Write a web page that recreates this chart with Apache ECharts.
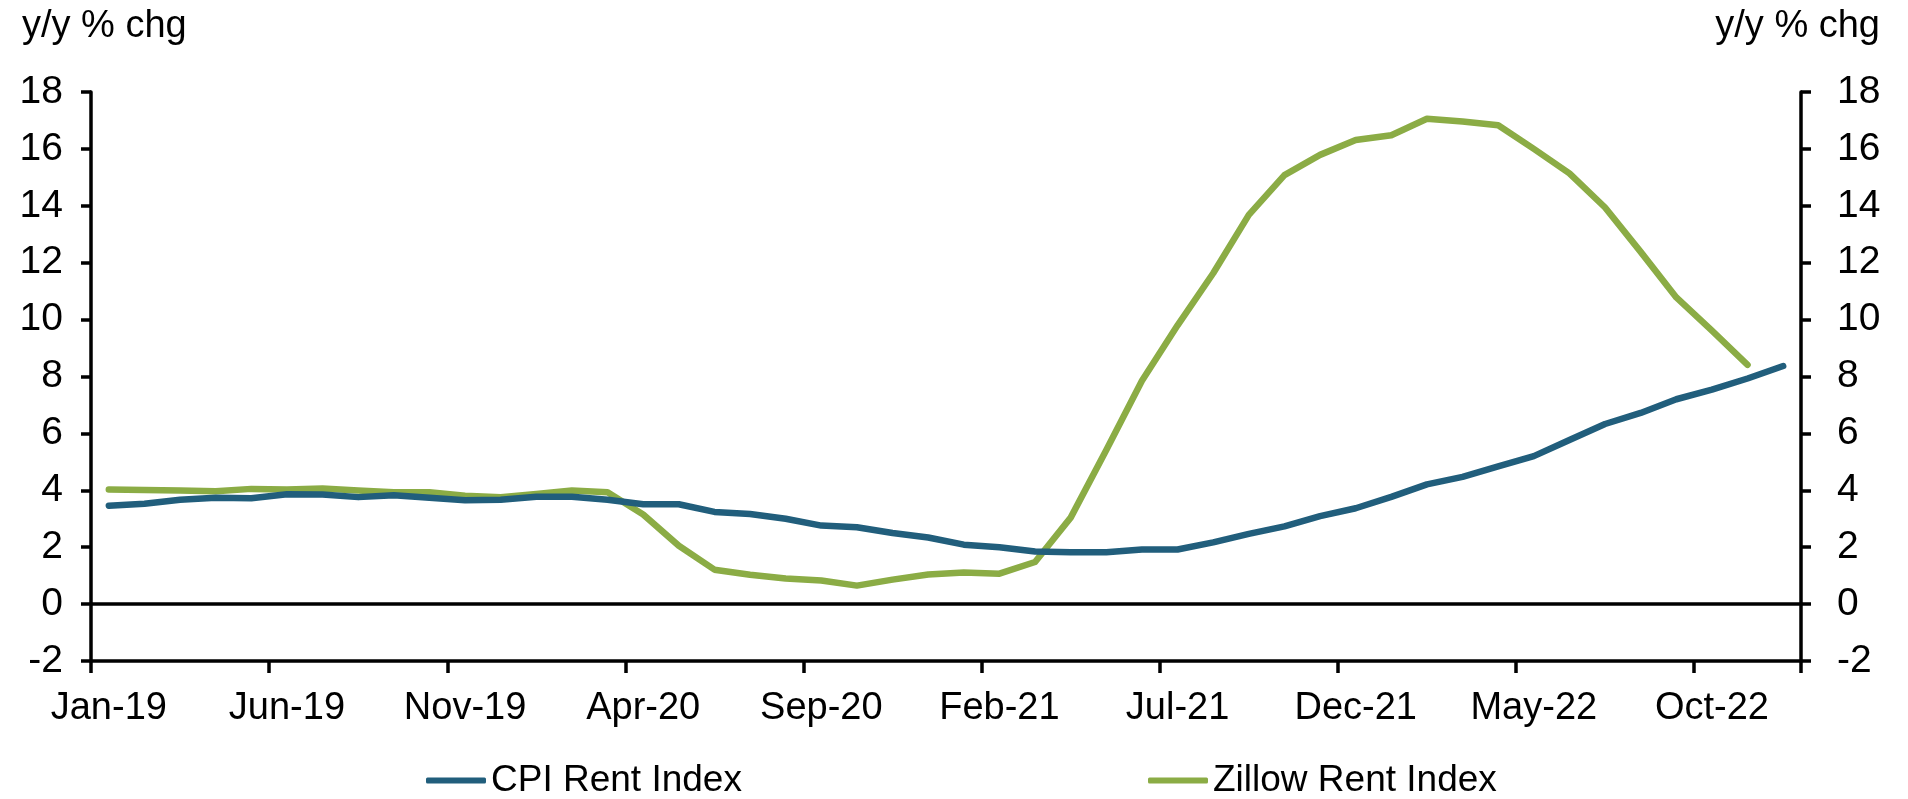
<!DOCTYPE html>
<html>
<head>
<meta charset="utf-8">
<script src="https://cdn.jsdelivr.net/npm/echarts@6/dist/echarts.min.js"></script>
<style>
html,body{margin:0;padding:0;background:#fff;}
#chart{width:1908px;height:799px;}
</style>
</head>
<body>
<div id="chart"></div>
<script>
const months = [
  'Jan-19','Feb-19','Mar-19','Apr-19','May-19','Jun-19','Jul-19','Aug-19','Sep-19','Oct-19','Nov-19','Dec-19',
  'Jan-20','Feb-20','Mar-20','Apr-20','May-20','Jun-20','Jul-20','Aug-20','Sep-20','Oct-20','Nov-20','Dec-20',
  'Jan-21','Feb-21','Mar-21','Apr-21','May-21','Jun-21','Jul-21','Aug-21','Sep-21','Oct-21','Nov-21','Dec-21',
  'Jan-22','Feb-22','Mar-22','Apr-22','May-22','Jun-22','Jul-22','Aug-22','Sep-22','Oct-22','Nov-22','Dec-22'
];
const cpiRent = [
  3.46,3.53,3.67,3.74,3.72,3.86,3.85,3.76,3.83,3.74,3.65,3.67,
  3.77,3.77,3.67,3.51,3.51,3.24,3.17,3.00,2.76,2.70,2.50,2.34,
  2.09,2.00,1.85,1.82,1.82,1.92,1.92,2.17,2.47,2.73,3.09,3.37,
  3.77,4.21,4.47,4.84,5.20,5.77,6.33,6.72,7.20,7.54,7.93,8.37
];
const zillowRent = [
  4.03,4.01,3.99,3.97,4.05,4.03,4.06,3.99,3.93,3.93,3.81,3.76,
  3.87,3.99,3.93,3.15,2.05,1.21,1.03,0.90,0.83,0.65,0.86,1.04,
  1.11,1.07,1.48,3.04,5.42,7.85,9.80,11.63,13.68,15.08,15.79,16.31,
  16.48,17.06,16.96,16.83,16.00,15.14,13.94,12.38,10.78,9.61,8.41
];
const yMin = -2, yMax = 18, yStep = 2;
const axisTitle = 'y/y % chg';
const seriesNames = ['CPI Rent Index', 'Zillow Rent Index'];

const FONT = '"Liberation Sans", Arial, sans-serif';
const BLUE = '#215E7C';
const GREEN = '#8BAC45';

const chart = echarts.init(document.getElementById('chart'), null, {renderer: 'canvas'});

function yAxisCfg(pos, margin) {
  return {
    type: 'value', position: pos, min: yMin, max: yMax, interval: yStep,
    axisLine: {show: true, lineStyle: {color: '#000', width: 3.5}},
    axisTick: {show: true, length: 10, lineStyle: {color: '#000', width: 3.5}},
    axisLabel: {color: '#000', fontSize: 39, fontFamily: FONT, margin: margin},
    splitLine: {show: false}
  };
}

chart.setOption({
  animation: false,
  backgroundColor: '#fff',
  grid: {left: 91, right: 107, top: 92, bottom: 138, containLabel: false},
  graphic: [
    {type: 'text', left: 22, top: 8, style: {text: axisTitle, font: '38px ' + FONT, fill: '#000'}},
    {type: 'text', right: 28, top: 8, style: {text: axisTitle, font: '38px ' + FONT, fill: '#000'}}
  ],
  legend: [
    {
      data: [seriesNames[0]], left: 421, top: 757, icon: 'roundRect',
      itemWidth: 60, itemHeight: 6, itemGap: 5,
      textStyle: {color: '#000', fontSize: 37, fontFamily: FONT}
    },
    {
      data: [seriesNames[1]], left: 1143, top: 757, icon: 'roundRect',
      itemWidth: 60, itemHeight: 6, itemGap: 5,
      textStyle: {color: '#000', fontSize: 37, fontFamily: FONT}
    }
  ],
  xAxis: {
    type: 'category', data: months, boundaryGap: true,
    axisLine: {show: true, onZero: false, lineStyle: {color: '#000', width: 3.5}},
    axisTick: {show: true, interval: 4, length: 12, lineStyle: {color: '#000', width: 3.5}},
    axisLabel: {interval: 4, color: '#000', fontSize: 38, fontFamily: FONT, margin: 29},
    splitLine: {show: false}
  },
  yAxis: [yAxisCfg('left', 28), yAxisCfg('right', 36)],
  series: [
    {
      name: seriesNames[0], type: 'line', data: cpiRent, yAxisIndex: 0,
      symbol: 'none', color: BLUE,
      lineStyle: {color: BLUE, width: 6.5, cap: 'round', join: 'round'},
      markLine: {
        silent: true, symbol: 'none', label: {show: false},
        lineStyle: {color: '#000', width: 3.5, type: 'solid'},
        data: [{yAxis: 0}]
      },
      z: 3
    },
    {
      name: seriesNames[1], type: 'line', data: zillowRent, yAxisIndex: 0,
      symbol: 'none', color: GREEN,
      lineStyle: {color: GREEN, width: 6.5, cap: 'round', join: 'round'},
      z: 2
    }
  ]
});
</script>
</body>
</html>
